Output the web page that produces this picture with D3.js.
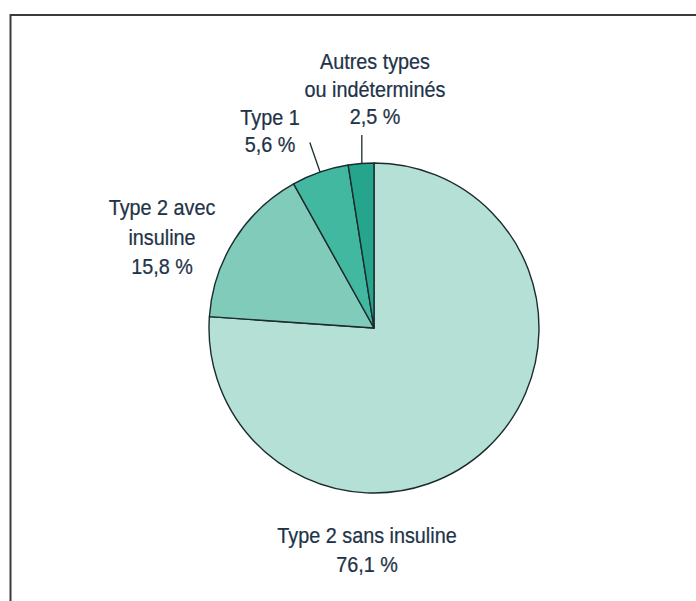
<!DOCTYPE html>
<html><head><meta charset="utf-8">
<script src="https://cdn.jsdelivr.net/npm/d3@7"></script>
<style>
html,body{margin:0;padding:0;background:#fff;}
svg{display:block;}
text{font-family:"Liberation Sans",Arial,sans-serif;fill:#1e3348;}
</style></head>
<body>
<svg id="chart" width="696" height="601"></svg>
<script>
const categories = ["Type 2 sans insuline", "Type 2 avec insuline", "Type 1", "Autres types ou indéterminés"];
const values = [76.1, 15.8, 5.6, 2.5];
const labelLines = [
  ["Type 2 sans insuline", "76,1 %"],
  ["Type 2 avec", "insuline", "15,8 %"],
  ["Type 1", "5,6 %"],
  ["Autres types", "ou indéterminés", "2,5 %"]
];
const colors = ["#b4e0d6", "#80cbba", "#42b8a0", "#26a58d"];

const svg = d3.select("#chart");
// frame
svg.append("line").attr("x1",10.5).attr("y1",15).attr("x2",696).attr("y2",15)
  .attr("stroke","#3a3a3a").attr("stroke-width",2);
svg.append("line").attr("x1",10.5).attr("y1",14).attr("x2",10.5).attr("y2",601)
  .attr("stroke","#3a3a3a").attr("stroke-width",2);

const cx = 374, cy = 328, r = 165;
const g = svg.append("g").attr("transform",`translate(${cx},${cy})`);
const pie = d3.pie().sort(null).value(d=>d)(values);
const arc = d3.arc().innerRadius(0).outerRadius(r);
const color = d3.scaleOrdinal().domain(categories).range(colors);

g.selectAll("path").data(pie).join("path")
  .attr("d", arc)
  .attr("fill", (d,i)=>color(categories[i]))
  .attr("stroke", "#1b2b2e").attr("stroke-width", 1.4).attr("stroke-linejoin","round");

// label layout (positions relative to centre): x centre, first baseline, line spacing
const layout = [
  {x:-7, y:215, dy:29},
  {x:-212, y:-113, dy:29.5},
  {x:-104, y:-203, dy:27},
  {x:1, y:-259, dy:27.5}
];
const leaders = [null, null, {f:0.5, r2:1.19}, {f:0.53, top:-193}];

pie.forEach((d,i)=>{
  const L = layout[i];
  const lg = g.append("g").attr("transform",`translate(${L.x},0) scale(0.88,1)`);
  const t = lg.append("text").attr("text-anchor","middle").attr("font-size",22.5)
    .attr("stroke","#1e3348").attr("stroke-width",0.25);
  labelLines[i].forEach((s,k)=>{
    t.append("tspan").attr("x",0).attr("y",L.y + k*L.dy).text(s);
  });
  const ld = leaders[i];
  if(ld){
    const a = d.startAngle + (d.endAngle-d.startAngle)*ld.f;
    const x1 = r*Math.sin(a), y1 = -r*Math.cos(a);
    let x2, y2;
    if(ld.top!==undefined){ x2 = x1; y2 = ld.top; }
    else { x2 = r*ld.r2*Math.sin(a); y2 = -r*ld.r2*Math.cos(a); }
    g.append("line").attr("x1",x1).attr("y1",y1).attr("x2",x2).attr("y2",y2)
      .attr("stroke","#1b2b2e").attr("stroke-width",1.3);
  }
});
</script>
</body></html>
